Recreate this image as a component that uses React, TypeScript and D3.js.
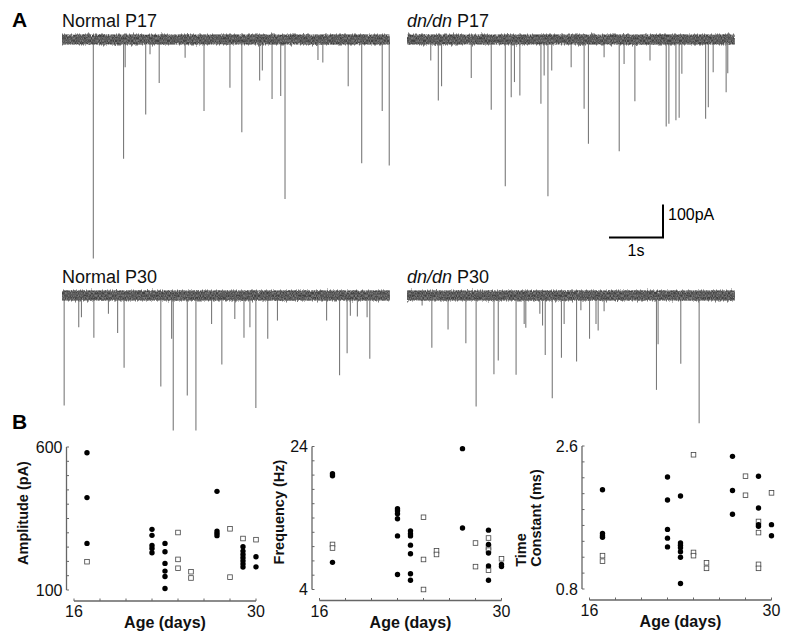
import React from 'react';
import * as d3 from 'd3';

// spike events: [time (s), amplitude (pA)]
const normalP17 = [
  [0.58, 664], [1.14, 361], [1.17, 84], [1.55, 227], [1.63, 45], [1.80, 132], [2.28, 55],
  [2.63, 217], [3.11, 146], [3.33, 281], [3.66, 124], [3.71, 94], [3.89, 180], [4.05, 171],
  [4.13, 483], [4.74, 62], [4.83, 70], [5.30, 142], [5.55, 375], [5.93, 217], [6.06, 382],
];
const dndnP17 = [
  [0.44, 64], [0.58, 185], [0.64, 142], [1.19, 117], [1.56, 213], [1.82, 445], [1.93, 175],
  [1.99, 129], [2.09, 170], [2.48, 195], [2.54, 109], [2.61, 475], [2.68, 94], [3.04, 84],
  [3.28, 210], [3.36, 316], [3.65, 54], [3.93, 339], [4.02, 74], [4.22, 187], [4.50, 64],
  [4.80, 264], [4.85, 255], [4.98, 245], [5.04, 237], [5.09, 104], [5.53, 240], [5.58, 205],
  [5.67, 99], [5.91, 160], [5.94, 102],
];
const normalP30 = [
  [0.04, 333], [0.31, 96], [0.36, 66], [0.59, 128], [0.86, 55], [1.03, 114], [1.15, 219],
  [1.83, 276], [2.03, 131], [2.06, 409], [2.32, 303], [2.48, 409], [2.77, 86], [2.96, 209],
  [3.20, 71], [3.37, 128], [3.48, 96], [3.59, 341], [3.81, 131], [3.99, 76], [4.90, 76],
  [5.14, 242], [5.28, 175], [5.34, 61], [5.47, 64], [5.65, 66], [5.70, 192],
];
const dndnP30 = [
  [0.28, 30], [0.46, 158], [0.76, 103], [1.09, 145], [1.28, 336], [1.61, 239], [1.69, 197],
  [2.02, 240], [2.17, 86], [2.20, 98], [2.46, 55], [2.51, 91], [2.56, 180], [2.69, 311],
  [2.86, 189], [2.91, 86], [3.14, 200], [3.22, 45], [3.38, 131], [3.50, 86], [3.54, 106],
  [3.65, 48], [4.62, 286], [4.65, 148], [5.07, 207], [5.41, 387],
];

// panel B: [age (days), value]; filled = normal, open = dn/dn
const ampNormal = [
  [17, 580], [17, 423], [17, 263], [22, 312], [22, 291], [22, 256], [22, 245], [22, 230],
  [23, 263], [23, 234], [23, 193], [23, 166], [23, 147], [23, 105], [27, 445], [27, 306],
  [27, 298], [27, 290], [29, 251], [29, 236], [29, 224], [29, 213], [29, 202], [29, 191],
  [29, 180], [30, 216], [30, 181],
];
const ampDn = [
  [17, 199], [24, 301], [24, 207], [24, 176], [25, 164], [25, 142], [28, 314], [28, 145],
  [29, 280], [30, 276],
];
const freqNormal = [
  [17, 20.2], [17, 19.9], [17, 7.8], [22, 15.3], [22, 15.0], [22, 14.6], [22, 13.9], [22, 11.5],
  [22, 6.1], [23, 12.2], [23, 11.8], [23, 11.5], [23, 10.2], [23, 9.0], [23, 6.2], [23, 5.3],
  [27, 23.7], [27, 12.6], [29, 12.3], [29, 10.3], [29, 9.1], [29, 7.3], [29, 5.3], [30, 7.5],
  [30, 7.2],
];
const freqDn = [
  [17, 10.3], [17, 9.8], [24, 14.1], [24, 8.2], [24, 4.0], [25, 9.4], [25, 8.9], [28, 10.5],
  [28, 7.2], [29, 11.2], [29, 9.9], [29, 9.5], [29, 6.7], [30, 8.3],
];
const tauNormal = [
  [17, 2.05], [17, 1.50], [17, 1.47], [17, 1.45], [22, 2.21], [22, 1.92], [22, 1.55], [22, 1.44],
  [22, 1.33], [23, 1.97], [23, 1.38], [23, 1.35], [23, 1.32], [23, 1.27], [23, 1.20], [23, 0.87],
  [27, 2.47], [27, 2.04], [27, 1.74], [29, 2.22], [29, 1.82], [29, 1.61], [29, 1.59], [30, 1.61],
  [30, 1.47],
];
const tauDn = [
  [17, 1.22], [17, 1.15], [24, 2.49], [24, 1.26], [24, 1.22], [25, 1.13], [25, 1.06], [28, 2.22],
  [28, 1.98], [29, 1.65], [29, 1.51], [29, 1.11], [29, 1.06], [30, 2.01],
];

const ageTicks = [16, 18, 20, 22, 24, 26, 28, 30];

const FONT = '"Liberation Sans", Arial, Helvetica, sans-serif';
const DURATION = 6.07; // s shown per trace
const PX_PER_S = 54;
const PX_PER_100PA = 33;

const Trace = ({ x0, y0, spikes, title }) => {
  const x = d3.scaleLinear().domain([0, DURATION]).range([x0, x0 + DURATION * PX_PER_S]);
  const y = d3.scaleLinear().domain([0, 100]).range([y0, y0 + PX_PER_100PA]);
  const w = x(DURATION) - x(0);
  return (
    <g>
      <text x={x0} y={y0 - 13} fontSize={18} fill="#111">{title}</text>
      {spikes.map((d, i) => (
        <line key={i} x1={x(d[0])} x2={x(d[0])} y1={y(0)} y2={y(d[1])}
          stroke="#7a7a7a" strokeWidth={1.1} />
      ))}
      {/* noisy baseline */}
      <rect x={x(0)} y={y0 - 5} width={w} height={10} fill="#7a7a7a" filter="url(#edge)" />
      <rect x={x(0)} y={y0 - 5} width={w} height={10} fill="#000" filter="url(#grain)" />
    </g>
  );
};

const Scatter = ({ left, top, ydomain, ytick, ylabels, label, filled, open }) => {
  const x = d3.scaleLinear().domain([16, 30]).range([left, left + 182]);
  const y = d3.scaleLinear().domain(ydomain).range([top + 143, top]);
  const ax = left - 7.5;
  const ay = top + 154;
  const yt = d3.range(ydomain[0], ydomain[1] + ytick / 2, ytick);
  return (
    <g fontFamily={FONT}>
      <line x1={ax} x2={ax} y1={y(ydomain[0])} y2={y(ydomain[1])} stroke="#666" strokeWidth={1.3} />
      {yt.map((t, i) => (
        <line key={i} x1={ax} x2={ax + 2.5} y1={y(t)} y2={y(t)} stroke="#666" strokeWidth={1} />
      ))}
      <line x1={x(16)} x2={x(30)} y1={ay} y2={ay} stroke="#666" strokeWidth={1.3} />
      {ageTicks.map(t => (
        <line key={t} x1={x(t)} x2={x(t)} y1={ay} y2={ay - 2.5} stroke="#666" strokeWidth={1} />
      ))}
      {ylabels.map(v => (
        <text key={v} x={ax - 4} y={y(v)} dy="0.36em" textAnchor="end" fontSize={16} fill="#111">{v}</text>
      ))}
      {[16, 30].map(v => (
        <text key={v} x={x(v)} y={ay + 16} textAnchor="middle" fontSize={16} fill="#111">{v}</text>
      ))}
      <text x={x(23)} y={ay + 27} textAnchor="middle" fontSize={16} fontWeight="bold" fill="#111">Age (days)</text>
      {label}
      {open.map((d, i) => (
        <rect key={'o' + i} x={x(d[0]) - 2.3} y={y(d[1]) - 2.3} width={4.6} height={4.6}
          fill="white" stroke="#444" strokeWidth={0.8} />
      ))}
      {filled.map((d, i) => (
        <circle key={'f' + i} cx={x(d[0])} cy={y(d[1])} r={2.7} fill="#000" />
      ))}
    </g>
  );
};

const vLabel = (cx, cy, txt) => (
  <text transform={`translate(${cx},${cy}) rotate(-90)`} textAnchor="middle" fontSize={14.5}
    fontWeight="bold" fill="#111">{txt}</text>
);

export default function App() {
  return (
    <svg width={785} height={641} style={{ position: 'absolute', left: 0, top: 0, background: 'white' }}
      fontFamily={FONT}>
      <defs>
        <filter id="grain" x="0%" y="-20%" width="100%" height="140%" colorInterpolationFilters="sRGB">
          <feTurbulence type="fractalNoise" baseFrequency="1.0 0.4" numOctaves="3" seed="4" result="n" />
          <feColorMatrix in="n" type="matrix"
            values="0 0 0 0 0.25  0 0 0 0 0.25  0 0 0 0 0.25  3.0 0 0 0 -1.0" result="m" />
          <feComposite in="m" in2="SourceAlpha" operator="in" />
        </filter>
        <filter id="edge" x="0%" y="-40%" width="100%" height="180%" colorInterpolationFilters="sRGB">
          <feTurbulence type="fractalNoise" baseFrequency="0.8 0.1" numOctaves="2" seed="9" result="d" />
          <feDisplacementMap in="SourceGraphic" in2="d" scale="6" xChannelSelector="R" yChannelSelector="G" />
        </filter>
      </defs>
      <rect width={785} height={641} fill="white" />

      <text x={12} y={27} fontSize={21} fontWeight="bold">A</text>
      <text x={12} y={429} fontSize={21} fontWeight="bold">B</text>

      <Trace x0={62} y0={39.5} spikes={normalP17} title="Normal P17" />
      <Trace x0={407} y0={39.5} spikes={dndnP17}
        title={<><tspan fontStyle="italic">dn/dn</tspan> P17</>} />
      <Trace x0={62} y0={295.5} spikes={normalP30} title="Normal P30" />
      <Trace x0={407} y0={295.5} spikes={dndnP30}
        title={<><tspan fontStyle="italic">dn/dn</tspan> P30</>} />

      {/* scale bar: 1 s, 100 pA */}
      <path d={`M${663 - PX_PER_S},237.5H663V${237.5 - PX_PER_100PA}`} fill="none" stroke="#000" strokeWidth={2} />
      <text x={668} y={220} fontSize={16}>100pA</text>
      <text x={636} y={256} fontSize={16} textAnchor="middle">1s</text>

      <Scatter left={74} top={447} ydomain={[100, 600]} ytick={50} ylabels={[600, 100]}
        label={vLabel(28, 513, 'Amplitude (pA)')} filled={ampNormal} open={ampDn} />
      <Scatter left={319.5} top={446.5} ydomain={[4, 24]} ytick={2} ylabels={[24, 4]}
        label={vLabel(284, 512, 'Frequency (Hz)')} filled={freqNormal} open={freqDn} />
      <Scatter left={589.5} top={446} ydomain={[0.8, 2.6]} ytick={0.2} ylabels={['2.6', '0.8']}
        label={<g>{vLabel(526, 550, 'Time')}{vLabel(541, 518, 'Constant (ms)')}</g>}
        filled={tauNormal} open={tauDn} />
    </svg>
  );
}
